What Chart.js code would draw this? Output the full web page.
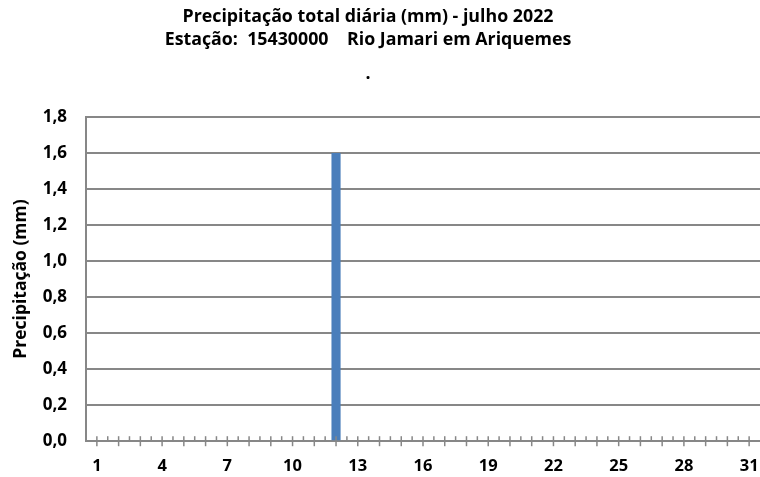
<!DOCTYPE html>
<html>
<head>
<meta charset="utf-8">
<script src="https://cdn.jsdelivr.net/npm/chart.js@4"></script>
<style>
  html, body { margin: 0; padding: 0; background: #fff; }
  #wrap { width: 760px; height: 477px; }
</style>
</head>
<body>
<div id="wrap"><canvas id="myChart"></canvas></div>
<script>
const days = ['1', '2', '3', '4', '5', '6', '7', '8', '9', '10', '11', '12', '13', '14', '15', '16',
  '17', '18', '19', '20', '21', '22', '23', '24', '25', '26', '27', '28', '29', '30', '31']
const precip = [0, 0, 0, 0, 0, 0, 0, 0, 0, 0, 0, 1.6, 0, 0, 0, 0,
  0, 0, 0, 0, 0, 0, 0, 0, 0, 0, 0, 0, 0, 0, 0]
const titleLines = ['Precipitação total diária (mm) - julho 2022', 'Estação:  15430000    Rio Jamari em Ariquemes']
const subLine = '.'
const yTitle = 'Precipitação (mm)'

const gridColor = '#878787'
const fontFam = "'Open Sans', 'Noto Sans', sans-serif"

// little tick marks on the x axis: crossing at each day, above only between days
const xTicks = {
  id: 'xTicks',
  afterLayout (chart) {
    // titles sit a bit left of the canvas centre in the original
    chart.boxes.forEach(function (box) {
      if (box.options && (typeof box.options.text === 'string' || Array.isArray(box.options.text))) {
        box.left -= 12
        box.right -= 12
      }
    })
  },
  afterDatasetsDraw (chart) {
    const ctx = chart.ctx
    const x = chart.scales.x
    const y0 = chart.chartArea.bottom
    const half = (x.getPixelForValue(1) - x.getPixelForValue(0)) / 2
    ctx.save()
    ctx.strokeStyle = gridColor
    ctx.lineWidth = 1.5
    for (let i = 0; i < days.length; i++) {
      const c = x.getPixelForValue(i)
      ctx.beginPath()
      ctx.moveTo(c, y0 - 5)
      ctx.lineTo(c, y0 + 5)
      ctx.stroke()
      if (i < days.length - 1) {
        ctx.beginPath()
        ctx.moveTo(c + half, y0 - 5)
        ctx.lineTo(c + half, y0)
        ctx.stroke()
      }
    }
    ctx.restore()
  }
}

const ctx = document.getElementById('myChart').getContext('2d')
const myChart = new Chart(ctx, {
  type: 'bar',
  data: {
    labels: days,
    datasets: [{
      label: 'Precipitação',
      data: precip,
      backgroundColor: '#4a7ebb',
      barPercentage: 0.42,
      categoryPercentage: 1.0
    }]
  },
  options: {
    responsive: true,
    maintainAspectRatio: false,
    animation: false,
    layout: { padding: { left: 0, right: 0, top: 0, bottom: 0 } },
    plugins: {
      legend: { display: false },
      tooltip: { enabled: false },
      title: {
        display: true,
        text: titleLines,
        color: '#000',
        font: { family: fontFam, size: 17.8, weight: 'bold', lineHeight: 1.29 },
        padding: { top: 5, bottom: 0 }
      },
      subtitle: {
        display: true,
        text: subLine,
        color: '#000',
        font: { family: fontFam, size: 17.8, weight: 'bold', lineHeight: 1.29 },
        padding: { top: 12, bottom: 31 }
      }
    },
    scales: {
      x: {
        grid: { display: false, drawOnChartArea: false, drawTicks: true, tickLength: 14 },
        border: { display: true, color: gridColor, width: 2 },
        ticks: {
          autoSkip: false,
          maxRotation: 0,
          color: '#000',
          padding: 1,
          font: { family: fontFam, size: 16.5, weight: 'bold' },
          callback: function (val, idx) {
            return idx % 3 === 0 ? days[idx] : ''
          }
        }
      },
      y: {
        min: 0,
        max: 1.8,
        afterFit: function (scale) { scale.width = 86 },
        ticks: {
          stepSize: 0.2,
          color: '#000',
          padding: 19,
          font: { family: fontFam, size: 17, weight: 'bold' },
          callback: function (v) { return v.toFixed(1).replace('.', ',') }
        },
        grid: { color: gridColor, lineWidth: 2, drawTicks: false },
        border: { display: true, color: gridColor, width: 2 },
        title: {
          display: true,
          text: yTitle,
          color: '#000',
          font: { family: fontFam, size: 17.5, weight: 'bold' },
          padding: { top: 11, bottom: 4 }
        }
      }
    }
  },
  plugins: [xTicks]
})
</script>
</body>
</html>
